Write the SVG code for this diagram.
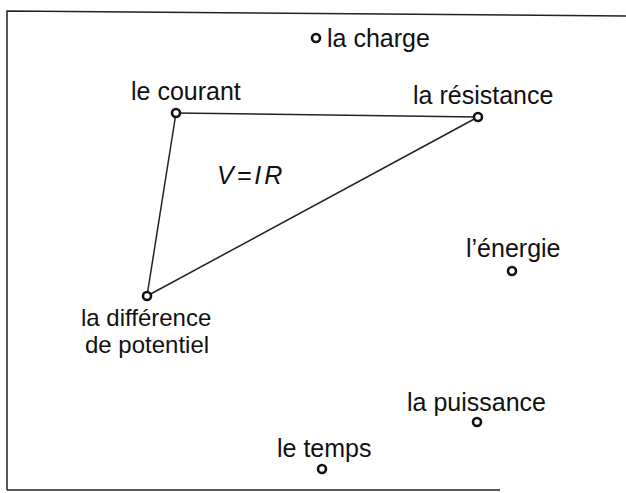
<svg xmlns="http://www.w3.org/2000/svg" width="626" height="493" viewBox="0 0 626 493">
<style>
.lbl{font-family:"Liberation Sans",Arial,sans-serif;font-size:25px;fill:#111;}
.sm{font-size:24px;}
.nd{fill:#fff;stroke:#111;stroke-width:2.6;}
.ln{stroke:#222;stroke-width:1.5;fill:none;}
.bd{stroke:#222;stroke-width:1.5;fill:none;}
</style>
<rect width="626" height="493" fill="#fff"/>
<g id="border">
<path class="bd" d="M7,490 L7,11 L626,16"/>
<path class="bd" d="M7,490 L500,490"/>
</g>
<g id="connectors">
<line class="ln" x1="176" y1="113" x2="478" y2="117"/>
<line class="ln" x1="176" y1="113" x2="147" y2="296"/>
<line class="ln" x1="147" y1="296" x2="478" y2="117"/>
</g>
<g id="formula"><text class="lbl" x="217" y="184" font-style="italic" letter-spacing="3">V=IR</text></g>
<g id="n-charge"><circle class="nd" cx="316" cy="38" r="4"/><text class="lbl" x="327" y="47">la charge</text></g>
<g id="n-courant"><circle class="nd" cx="176" cy="113" r="4"/><text class="lbl" x="131" y="100">le courant</text></g>
<g id="n-resistance"><circle class="nd" cx="478" cy="117" r="4"/><text class="lbl" x="413" y="104">la résistance</text></g>
<g id="n-difference"><circle class="nd" cx="147" cy="296" r="4"/><text class="lbl sm" x="81" y="326">la différence</text><text class="lbl sm" x="85" y="353">de potentiel</text></g>
<g id="n-energie"><circle class="nd" cx="512" cy="271" r="4"/><text class="lbl" x="466" y="257">l’énergie</text></g>
<g id="n-puissance"><circle class="nd" cx="477" cy="422" r="4"/><text class="lbl" x="407" y="411">la puissance</text></g>
<g id="n-temps"><circle class="nd" cx="322" cy="469" r="4"/><text class="lbl" x="277" y="457">le temps</text></g>
</svg>
